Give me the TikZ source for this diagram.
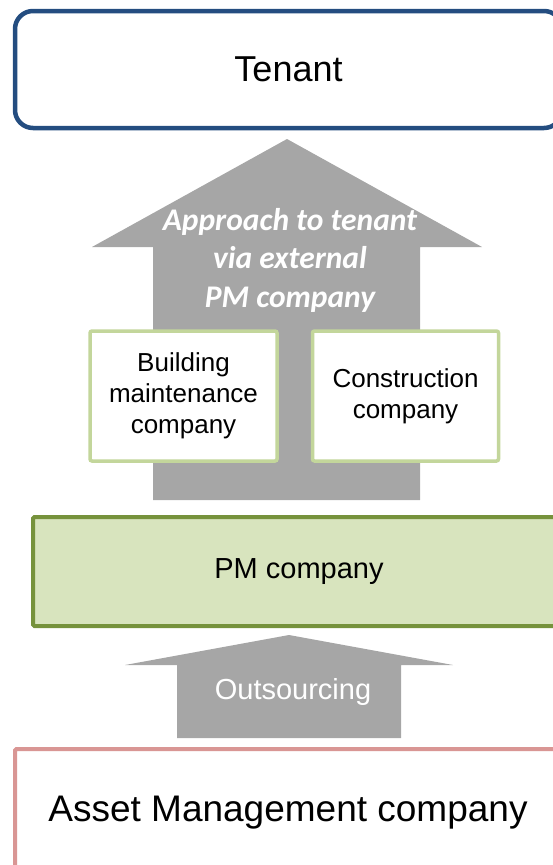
\documentclass[tikz,border=0pt]{standalone}
\usepackage{fontspec}
\setmainfont{Liberation Sans}
\newfontfamily\calibrifont{Carlito}
\usetikzlibrary{positioning}

\definecolor{tenantblue}{RGB}{36,77,128}
\definecolor{arrowgray}{RGB}{166,166,166}
\definecolor{pmfill}{RGB}{216,228,190}
\definecolor{pmline}{RGB}{118,146,60}
\definecolor{subline}{RGB}{195,214,155}
\definecolor{assetline}{RGB}{217,150,148}

\begin{document}
\begin{tikzpicture}[
    x=1pt, y=-1pt,
    %% -- Box styles -------------------------------------------
    tenantbox/.style={
        rectangle, rounded corners=18pt,
        minimum width=547pt, minimum height=117pt,
        draw=tenantblue, line width=4.5pt, fill=white,
        font=\fontsize{36}{40}\selectfont
    },
    subbox/.style={
        rectangle, rounded corners=2pt,
        minimum width=186pt, minimum height=130pt,
        align=center,
        draw=subline, line width=3.5pt, fill=white,
        font=\fontsize{26}{31}\selectfont
    },
    pmbox/.style={
        rectangle, rounded corners=1.5pt,
        minimum width=532pt, minimum height=109pt,
        draw=pmline, line width=4pt, fill=pmfill,
        font=\fontsize{29}{34}\selectfont
    },
    assetbox/.style={
        rectangle, rounded corners=1.5pt,
        minimum width=546pt, minimum height=127pt,
        draw=assetline, line width=4pt, fill=white,
        font=\fontsize{37}{40}\selectfont
    },
    blockarrow/.style={fill=arrowgray},
    arrowlabel/.style={text=white, align=center}
]

\clip (0,0) rectangle (553,865);

%% -- Block arrows ---------------------------------------------
\fill [blockarrow] (287,139) -- (482,247) -- (420,247) -- (420,500)
    -- (153,500) -- (153,247) -- (92,247) -- cycle;
\fill [blockarrow] (289,635) -- (453,665) -- (401,665) -- (401,738)
    -- (177,738) -- (177,665) -- (125,665) -- cycle;

%% -- Nodes (top to bottom) ------------------------------------
\node (tenant) [tenantbox] at (288.5,69.5) {Tenant};
\node (via)    [arrowlabel, font=\calibrifont\bfseries\itshape\fontsize{31.5}{38.5}\selectfont]
    at (290,260) {Approach to tenant\\via external\\PM company};
\node (maint)  [subbox, minimum width=187pt] at (183.5,396) {Building\\maintenance\\company};
\node (constr) [subbox, right=32pt of maint] {Construction\\company};
\node (pm)     [pmbox] at (299,571.5) {PM company};
\node (out)    [arrowlabel, font=\fontsize{29}{34}\selectfont] at (293,692) {Outsourcing};
\node (asset)  [assetbox] at (288,812.5) {Asset Management company};

\end{tikzpicture}
\end{document}
